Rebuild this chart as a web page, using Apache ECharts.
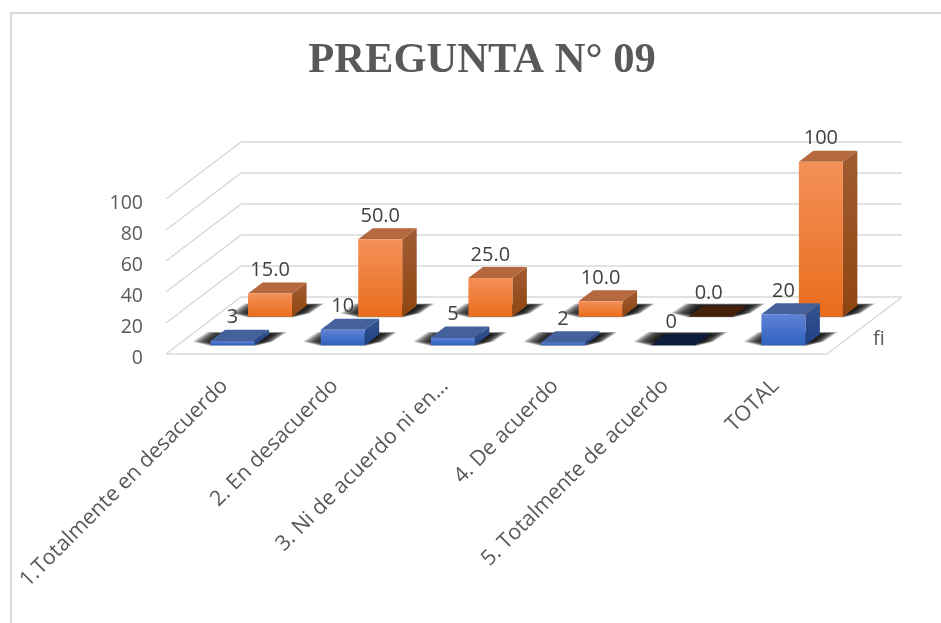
<!DOCTYPE html>
<html>
<head>
<meta charset="utf-8">
<style>
  html, body { margin: 0; padding: 0; background: #fff; }
  #chart { width: 941px; height: 623px; }
</style>
<script src="https://cdn.jsdelivr.net/npm/echarts@6/dist/echarts.min.js"></script>
</head>
<body>
<div id="chart"></div>
<script>
const categories = [
  '1.Totalmente en desacuerdo',
  '2. En desacuerdo',
  '3. Ni de acuerdo ni en...',
  '4. De acuerdo',
  '5. Totalmente de acuerdo',
  'TOTAL'
]
const fiValues = [3, 10, 5, 2, 0, 20]
const percentValues = [15.0, 50.0, 25.0, 10.0, 0.0, 100]
const percentLabels = ['15.0', '50.0', '25.0', '10.0', '0.0', '100']
const yTicks = [0, 20, 40, 60, 80, 100]

// oblique projection of the floor depth, in pixels
const DEPTH_X = 75
const DEPTH_Y = -57
const BAR_WIDTH = 44
const BAR_DEPTH = 0.193
// soft floor shadow, painted as stacked translucent layers
const SHADOW_SPREADS = [18, 17, 16, 15, 14, 13, 12, 11, 10, 9, 8, 7, 6, 5, 4, 3, 2, 1]

const blue = {
  frontTop: '#5f83d6', frontBottom: '#2f62c0',
  sideTop: '#34558f', sideBottom: '#1f4185',
  top: '#44619c', flat: '#0e1e3e'
}
const orange = {
  frontTop: '#f49058', frontBottom: '#e96c1c',
  sideTop: '#a05c32', sideBottom: '#8f4510',
  top: '#b5673e', flat: '#44210a'
}

const grad = (from, to) => new echarts.graphic.LinearGradient(0, 0, 0, 1, [
  { offset: 0, color: from },
  { offset: 1, color: to }
])

// walls and floor of the 3D box
const renderFrame = (params, api) => {
  const box = params.coordSys
  const left = box.x
  const right = box.x + box.width
  const tick = yTicks[params.dataIndex]
  const y = api.coord([0, tick])[1]
  const lineStyle = { stroke: '#d9d9d9', lineWidth: 1.5, fill: null }
  const children = [
    { type: 'polyline', shape: { points: [[left, y], [left + DEPTH_X, y + DEPTH_Y], [right + DEPTH_X, y + DEPTH_Y]] }, style: lineStyle }
  ]
  if (tick === 0) {
    children.push({ type: 'polyline', shape: { points: [[left, y], [right, y], [right + DEPTH_X, y + DEPTH_Y]] }, style: lineStyle })
  }
  return { type: 'group', children }
}

const makeRenderBar = (palette, depthStart, labels) => (params, api) => {
  const i = api.value(0)
  const value = api.value(1)
  const center = api.coord([i, 0])
  const topPt = api.coord([i, value])
  const cx = center[0] + DEPTH_X * depthStart
  const x0 = cx - BAR_WIDTH / 2
  const x1 = cx + BAR_WIDTH / 2
  const base = center[1] + DEPTH_Y * depthStart
  const top = topPt[1] + DEPTH_Y * depthStart
  const dx = DEPTH_X * BAR_DEPTH
  const dy = DEPTH_Y * BAR_DEPTH
  const children = SHADOW_SPREADS.map(k => ({
    type: 'polygon',
    shape: {
      points: [
        [x0 - k, base + 1 - k * 0.25],
        [x1 + k, base + 1 - k * 0.25],
        [x1 + dx + k, base + dy - k * 0.12],
        [x0 + dx - k, base + dy - k * 0.12]
      ]
    },
    style: { fill: 'rgba(15,15,15,0.14)' }
  }))
  if (value === 0) {
    children.push({
      type: 'polygon',
      shape: { points: [[x0, base], [x1, base], [x1 + dx, base + dy], [x0 + dx, base + dy]] },
      style: { fill: palette.flat }
    })
  } else {
    children.push({
      type: 'polygon',
      shape: { points: [[x1, base], [x1 + dx, base + dy], [x1 + dx, top + dy], [x1, top]] },
      style: { fill: grad(palette.sideTop, palette.sideBottom) }
    })
    children.push({
      type: 'polygon',
      shape: { points: [[x0, top], [x1, top], [x1 + dx, top + dy], [x0 + dx, top + dy]] },
      style: { fill: palette.top }
    })
    children.push({
      type: 'rect',
      shape: { x: x0, y: top, width: BAR_WIDTH, height: base - top },
      style: { fill: grad(palette.frontTop, palette.frontBottom) }
    })
  }
  children.push({
    type: 'text',
    z2: 100,
    style: {
      text: labels[i],
      x: value === 0 ? cx - 2 : cx,
      y: top + dy - 12,
      align: 'center',
      verticalAlign: 'middle',
      fill: '#404040',
      font: '20px "Open Sans"'
    }
  })
  return { type: 'group', children }
}

const chart = echarts.init(document.getElementById('chart'))

chart.setOption({
  animation: false,
  backgroundColor: '#fff',
  title: {
    text: 'PREGUNTA N° 09',
    left: 477,
    top: 34,
    textAlign: 'center',
    textStyle: { fontFamily: 'Liberation Serif', fontSize: 42.6, fontWeight: 'bold', color: '#595959' }
  },
  graphic: [
    { type: 'rect', z: -1, shape: { x: 11, y: 13, width: 1000, height: 700 }, style: { fill: '#fff', stroke: '#d9d9d9', lineWidth: 2 } },
    { type: 'text', x: 873, y: 329, style: { text: 'fi', fill: '#595959', font: '20px "Open Sans"' } }
  ],
  grid: { left: 166, right: 114, top: 199, bottom: 269 },
  xAxis: {
    type: 'category',
    data: categories,
    axisLine: { show: false },
    axisTick: { show: false },
    axisLabel: { interval: 0, rotate: 45, margin: 25, color: '#595959', fontFamily: 'Open Sans', fontSize: 21.3, verticalAlign: 'top', lineHeight: 10 }
  },
  yAxis: {
    type: 'value',
    min: 0,
    max: 100,
    interval: 20,
    axisLine: { show: false },
    axisTick: { show: false },
    splitLine: { show: false },
    axisLabel: { margin: 23, color: '#595959', fontFamily: 'Open Sans', fontSize: 19.5, verticalAlign: 'top', lineHeight: 8 }
  },
  series: [
    {
      type: 'custom',
      name: 'frame',
      z: 1,
      clip: false,
      silent: true,
      renderItem: renderFrame,
      encode: { x: 0, y: 1 },
      data: yTicks.map(t => [0, t])
    },
    {
      type: 'custom',
      name: '%',
      z: 2,
      clip: false,
      renderItem: makeRenderBar(orange, 0.653, percentLabels),
      encode: { x: 0, y: 1 },
      data: percentValues.map((v, i) => [i, v])
    },
    {
      type: 'custom',
      name: 'fi',
      z: 3,
      clip: false,
      renderItem: makeRenderBar(blue, 0.153, fiValues.map(String)),
      encode: { x: 0, y: 1 },
      data: fiValues.map((v, i) => [i, v])
    }
  ]
})
</script>
</body>
</html>
